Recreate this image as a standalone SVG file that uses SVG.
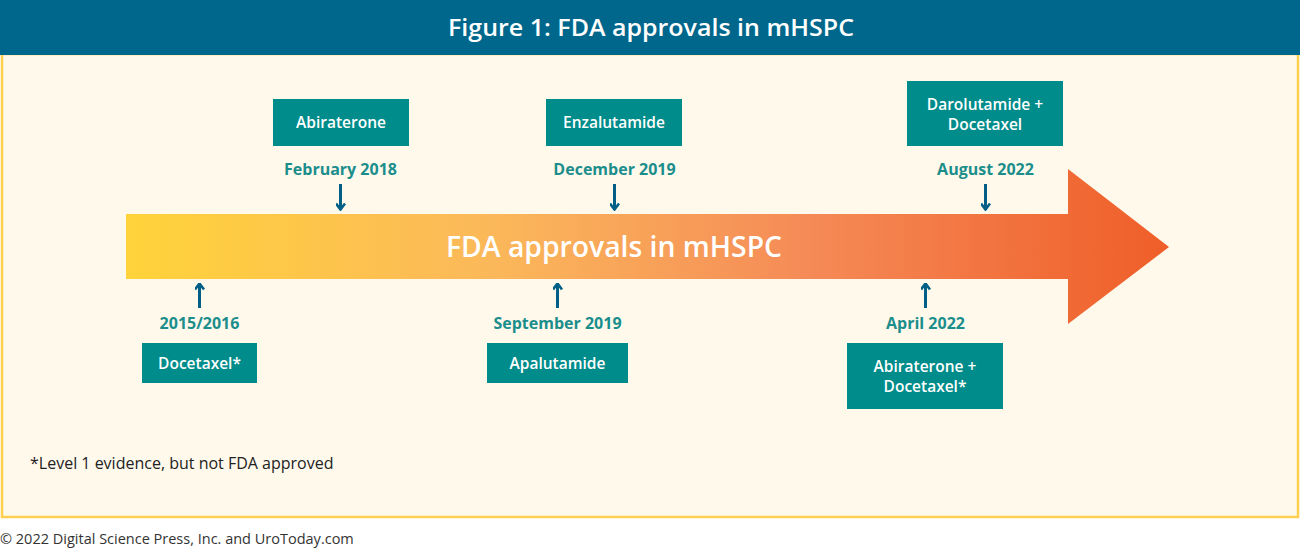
<svg xmlns="http://www.w3.org/2000/svg" width="1301" height="549" viewBox="0 0 1301 549">
<defs>
<linearGradient id="grad" gradientUnits="userSpaceOnUse" x1="126" y1="0" x2="1169" y2="0">
<stop offset="0" stop-color="#FFD33A"/>
<stop offset="0.35" stop-color="#FBB85A"/>
<stop offset="0.65" stop-color="#F58B57"/>
<stop offset="1" stop-color="#EF5E29"/>
</linearGradient>
<marker id="ah" viewBox="0 0 10 10" refX="9" refY="5" markerWidth="10" markerHeight="10" markerUnits="userSpaceOnUse" orient="auto">
<path d="M3,0.5 L9,5 L3,9.5" fill="none" stroke="#005F86" stroke-width="2.6"/>
</marker>
<style>
.box{fill:#008C8A}
.bt{font-family:"Open Sans","Noto Sans",sans-serif;font-weight:600;font-size:15.5px;fill:#FFFFFF;text-anchor:middle}
.dt{font-family:"Open Sans","Noto Sans",sans-serif;font-weight:700;font-size:16px;fill:#1B8E8C;text-anchor:middle}
.arr{stroke:#005F86;stroke-width:3;fill:none}
</style>
</defs>
<rect x="0" y="0" width="1301" height="549" fill="#FFFFFF"/>
<rect x="2" y="54" width="1296" height="463" fill="#FFF9EC" stroke="#FFD04F" stroke-width="2.5"/>
<rect x="0" y="0" width="1300" height="55" fill="#00678C"/>
<text x="651" y="36" font-family="'Open Sans','Noto Sans',sans-serif" font-weight="600" font-size="24" fill="#FFFFFF" text-anchor="middle" textLength="406" lengthAdjust="spacingAndGlyphs">Figure 1: FDA approvals in mHSPC</text>

<g id="timeline">
<path d="M126,214 L1068,214 L1068,169 L1169,247 L1068,324 L1068,279 L126,279 Z" fill="url(#grad)"/>
<text x="614" y="257" font-family="'Open Sans','Noto Sans',sans-serif" font-weight="600" font-size="28" fill="#FFFFFF" text-anchor="middle" textLength="336" lengthAdjust="spacingAndGlyphs">FDA approvals in mHSPC</text>
</g>

<g id="connectors">
<line class="arr" x1="340.5" y1="184" x2="340.5" y2="209.5" marker-end="url(#ah)"/>
<line class="arr" x1="614.5" y1="184" x2="614.5" y2="209.5" marker-end="url(#ah)"/>
<line class="arr" x1="985.5" y1="184" x2="985.5" y2="209.5" marker-end="url(#ah)"/>
<line class="arr" x1="199.5" y1="308" x2="199.5" y2="283.5" marker-end="url(#ah)"/>
<line class="arr" x1="557.5" y1="308" x2="557.5" y2="283.5" marker-end="url(#ah)"/>
<line class="arr" x1="925.5" y1="308" x2="925.5" y2="283.5" marker-end="url(#ah)"/>
</g>

<g id="abiraterone">
<rect class="box" x="273" y="99" width="136" height="47"/>
<text class="bt" x="341" y="128">Abiraterone</text>
<text class="dt" x="340.5" y="175">February 2018</text>
</g>
<g id="enzalutamide">
<rect class="box" x="546" y="99" width="136" height="47"/>
<text class="bt" x="614" y="128">Enzalutamide</text>
<text class="dt" x="614.5" y="175">December 2019</text>
</g>
<g id="darolutamide">
<rect class="box" x="907" y="81" width="156" height="65"/>
<text class="bt" x="985" y="110">Darolutamide +</text>
<text class="bt" x="985" y="130">Docetaxel</text>
<text class="dt" x="985.5" y="175">August 2022</text>
</g>
<g id="docetaxel">
<text class="dt" x="199.5" y="329">2015/2016</text>
<rect class="box" x="142" y="343" width="115" height="40"/>
<text class="bt" x="199.5" y="369">Docetaxel*</text>
</g>
<g id="apalutamide">
<text class="dt" x="557.5" y="329">September 2019</text>
<rect class="box" x="487" y="343" width="141" height="40"/>
<text class="bt" x="557.5" y="369">Apalutamide</text>
</g>
<g id="abiraterone-docetaxel">
<text class="dt" x="925.5" y="329">April 2022</text>
<rect class="box" x="847" y="343" width="156" height="66"/>
<text class="bt" x="925" y="372">Abiraterone +</text>
<text class="bt" x="925" y="392">Docetaxel*</text>
</g>

<text x="30" y="469" font-family="'Open Sans','Noto Sans',sans-serif" font-size="16" fill="#222222">*Level 1 evidence, but not FDA approved</text>
<text x="0" y="544" font-family="'Open Sans','Noto Sans',sans-serif" font-size="14.5" fill="#333333">© 2022 Digital Science Press, Inc. and UroToday.com</text>
</svg>
